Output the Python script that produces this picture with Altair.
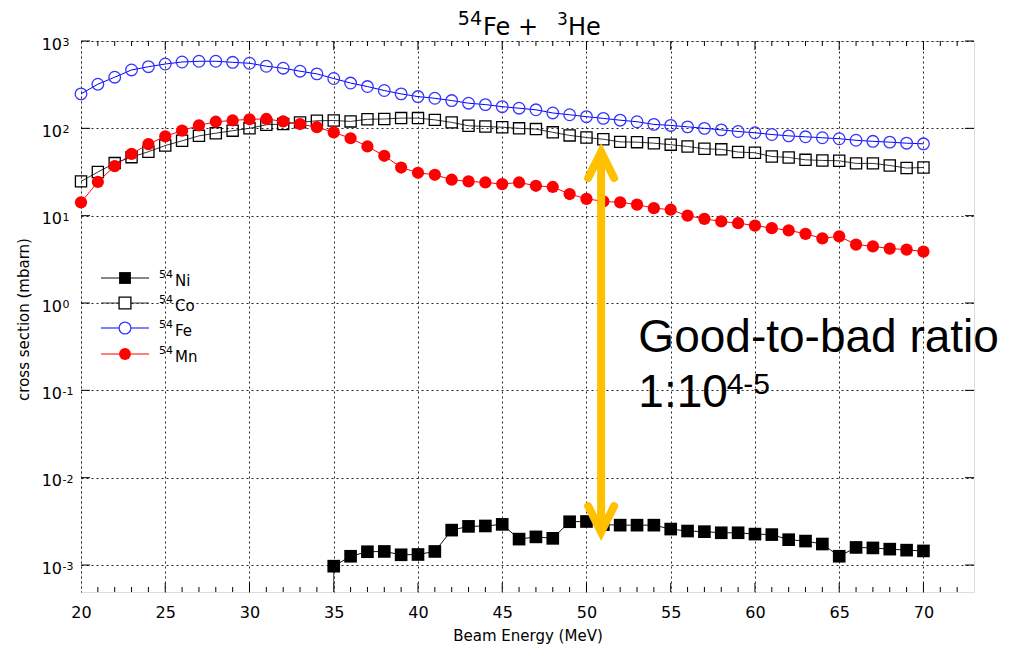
import altair as alt
import pandas as pd

# ---------------- data ----------------
energy = list(range(20, 71))
fe_54 = [248, 320, 385, 466, 508, 545, 575, 586, 586, 570, 556, 514, 488, 451, 420, 372, 330,
         301, 271, 248, 231, 221, 208, 194, 187, 177, 170, 163, 150, 143, 136, 130, 124, 119, 111,
         108, 104, 100, 96, 92, 89, 85, 82, 80, 78, 76, 73, 71, 69.5, 67.6, 66.5]
co_54 = [24.7, 31.6, 40, 46.8, 54, 63.5, 72, 82, 88, 94, 100, 110, 112, 117, 122,
         123, 120, 127, 128, 131, 131, 125, 117, 107, 105, 103, 100,
         98, 90, 83, 78.5, 75, 70, 69.5, 67.6, 65, 62, 58.3, 57.5, 53.5, 52.5, 47.6,
         46.4, 43.6, 42.9, 42.5, 39.7, 39.7, 37.6, 35.1, 35.6]
mn_54 = [14.2, 24.3, 37, 51, 66, 81, 94, 108, 119, 123, 127, 128, 120, 112, 103, 90, 77,
         62, 48.5, 35.6, 31, 29.4, 25.8, 24.7, 24, 23, 24, 22, 21.3, 17.7, 15.6, 14.6, 14.2, 13.4, 12.2, 11.7,
         10.0, 9.2, 8.6, 8.2, 7.7, 7.2, 6.8, 6.2, 5.5, 5.8, 4.67, 4.46, 4.2, 4.09, 3.88]
ni_energy = list(range(35, 71))
ni_54 = [0.00097, 0.00126, 0.00142, 0.00143, 0.00131, 0.00132, 0.00143, 0.00251, 0.00277, 0.0028, 0.00292,
         0.00198, 0.0021, 0.00202, 0.00313, 0.00315, 0.0029, 0.00286, 0.00286, 0.00286, 0.00258,
         0.00245, 0.00241, 0.00234, 0.00234, 0.00226, 0.00223, 0.00195, 0.00188, 0.00174, 0.00126,
         0.00159, 0.00157, 0.00152, 0.00148, 0.00145]

series_names = ["54Ni", "54Co", "54Fe", "54Mn"]
legend_mass = ["54", "54", "54", "54"]
legend_elem = ["Ni", "Co", "Fe", "Mn"]
title_parts = ["54", "Fe +", "3", "He"]          # superscript, normal, superscript, normal
x_title = "Beam Energy (MeV)"
y_title = "cross section (mbarn)"

x_domain = [20, 73]
y_domain = [4.91e-4, 1000]
x_major = [20, 25, 30, 35, 40, 45, 50, 55, 60, 65, 70]
x_minor = [v for v in range(21, 73) if v % 5 != 0]
y_major = [1e-3, 1e-2, 1e-1, 1, 10, 100, 1000]
y_exp = ["-3", "-2", "-1", "0", "1", "2", "3"]

# annotation arrow (x position, tips) and text
arrow_x = [50.87]
arrow_shaft = [53.6, 2.39e-3]
arrow_head_top = [27.0, 53.6, 27.0]
arrow_head_bottom = [4.73e-3, 2.39e-3, 4.73e-3]
arrow_half_width = 0.77
ann_text = ["Good-to-bad ratio", "1:10", "4-5"]
ann_x = [53.08, 53.08, 58.32]
ann_y = [0.272, 0.064, 0.09]
ann_size = [46, 46, 30]

W, H = 893, 551

xs = alt.Scale(domain=x_domain, nice=False, zero=False)
ys = alt.Scale(type="log", domain=y_domain, nice=False)

FONT = "DejaVu Sans"
x_axis = alt.Axis(values=x_major, title=x_title, ticks=False, domain=False, grid=True,
                  gridColor="#000", gridDash=[2, 3], gridWidth=1, gridOpacity=0.85,
                  labelFont=FONT, labelFontSize=16, labelColor="#000", labelPadding=12,
                  labelFlush=False, labelOverlap=False,
                  titleFont=FONT, titleFontSize=15, titleFontWeight="normal", titleColor="#000",
                  titleX=W / 2, titleY=48, titleAlign="center", titleBaseline="alphabetic")
y_axis = alt.Axis(values=y_major, labels=False, title=y_title, ticks=False, domain=False,
                  grid=True, gridColor="#000", gridDash=[2, 3], gridWidth=1, gridOpacity=0.85,
                  titleFont=FONT, titleFontSize=15, titleFontWeight="normal", titleColor="#000",
                  titleX=-58, titleY=278, titleAngle=270, titleAlign="center", titleBaseline="middle")

X = alt.X("E:Q", scale=xs, axis=x_axis)
Y = alt.Y("v:Q", scale=ys, axis=y_axis)

df_fe = pd.DataFrame({"E": energy, "v": fe_54})
df_co = pd.DataFrame({"E": energy, "v": co_54})
df_mn = pd.DataFrame({"E": energy, "v": mn_54})
df_ni = pd.DataFrame({"E": ni_energy, "v": ni_54})

styles = {
    "54Ni": dict(df=df_ni, line="#111111", col="#000000", shape="square", filled=True, size=160),
    "54Co": dict(df=df_co, line="#333333", col="#000000", shape="square", filled=False, size=125),
    "54Fe": dict(df=df_fe, line="#0000ff", col="#3535ff", shape="circle", filled=False, size=135),
    "54Mn": dict(df=df_mn, line="#ff0000", col="#ff0000", shape="circle", filled=True, size=150),
}

layers = []

# tick marks (inward) on all four sides
df_xminor = pd.DataFrame({"E": x_minor})
df_xmajor = pd.DataFrame({"E": x_major[1:]})
df_ymajor = pd.DataFrame({"v": y_major, "exp": y_exp, "base": ["10"] * len(y_major)})
tick_col = "#000"
layers.append(alt.Chart(df_xminor).mark_rule(color=tick_col, strokeWidth=1).encode(
    x=X, y=alt.value(H), y2=alt.value(H - 5)))
layers.append(alt.Chart(df_xminor).mark_rule(color=tick_col, strokeWidth=1).encode(
    x=X, y=alt.value(0), y2=alt.value(5)))
layers.append(alt.Chart(df_xmajor).mark_rule(color=tick_col, strokeWidth=1).encode(
    x=X, y=alt.value(H), y2=alt.value(H - 9)))
layers.append(alt.Chart(df_xmajor).mark_rule(color=tick_col, strokeWidth=1).encode(
    x=X, y=alt.value(0), y2=alt.value(9)))
layers.append(alt.Chart(df_ymajor).mark_rule(color=tick_col, strokeWidth=1).encode(
    y=Y, x=alt.value(0), x2=alt.value(9)))
layers.append(alt.Chart(df_ymajor).mark_rule(color=tick_col, strokeWidth=1).encode(
    y=Y, x=alt.value(W), x2=alt.value(W - 9)))

# y tick labels "10" with superscript exponent
layers.append(alt.Chart(df_ymajor).mark_text(
    align="right", baseline="alphabetic", font=FONT, fontSize=16, color="#000", dy=8.5).encode(
    y=Y, x=alt.value(-19), text="base:N"))
layers.append(alt.Chart(df_ymajor).mark_text(
    align="left", baseline="alphabetic", font=FONT, fontSize=11, color="#000", dy=5).encode(
    y=Y, x=alt.value(-18.5), text="exp:N"))

# drop line of the first 54Ni point
df_drop = pd.DataFrame({"E": [ni_energy[0]], "v": [ni_54[0]], "v2": [y_domain[0]]})
layers.append(alt.Chart(df_drop).mark_rule(color="#333", strokeWidth=1).encode(
    x=X, y=Y, y2="v2:Q"))

for name in series_names:
    s = styles[name]
    layers.append(alt.Chart(s["df"]).mark_line(color=s["line"], strokeWidth=1).encode(x=X, y=Y))
    layers.append(alt.Chart(s["df"]).mark_point(
        shape=s["shape"], filled=s["filled"], size=s["size"], color=s["col"],
        strokeWidth=1.3, opacity=1).encode(x=X, y=Y))

# manual legend (top-left, inside plot)
row_y = [237, 262, 287, 313]
for i, name in enumerate(series_names):
    s = styles[name]
    one = pd.DataFrame({"mass": [legend_mass[i]], "elem": [legend_elem[i]]})
    layers.append(alt.Chart(one).mark_rule(color=s["line"], strokeWidth=1.2).encode(
        x=alt.value(20), x2=alt.value(68), y=alt.value(row_y[i])))
    layers.append(alt.Chart(one).mark_point(
        shape=s["shape"], filled=s["filled"], size=140, color=s["col"], strokeWidth=1.3,
        opacity=1, fill=("#ffffff" if not s["filled"] else s["col"])).encode(
        x=alt.value(44), y=alt.value(row_y[i])))
    layers.append(alt.Chart(one).mark_text(
        align="left", baseline="alphabetic", font=FONT, fontSize=11, color="#000").encode(
        x=alt.value(78), y=alt.value(row_y[i]), text="mass:N"))
    layers.append(alt.Chart(one).mark_text(
        align="left", baseline="alphabetic", font=FONT, fontSize=15, color="#000").encode(
        x=alt.value(94), y=alt.value(row_y[i] + 8), text="elem:N"))

# orange double arrow
arrow_col = "#FFC000"
df_shaft = pd.DataFrame({"E": arrow_x, "v": [arrow_shaft[0]], "v2": [arrow_shaft[1]]})
layers.append(alt.Chart(df_shaft).mark_rule(color=arrow_col, strokeWidth=8).encode(
    x=X, y=Y, y2="v2:Q"))
hx = [arrow_x[0] - arrow_half_width, arrow_x[0], arrow_x[0] + arrow_half_width]
df_heads = pd.DataFrame({
    "E": hx + hx,
    "v": arrow_head_top + arrow_head_bottom,
    "head": ["top"] * 3 + ["bottom"] * 3,
    "o": [0, 1, 2, 0, 1, 2],
})
layers.append(alt.Chart(df_heads).mark_line(
    color=arrow_col, strokeWidth=8, strokeJoin="miter", strokeCap="round").encode(
    x=X, y=Y, detail="head:N", order="o:Q"))

# annotation text
df_ann = pd.DataFrame({"E": ann_x, "v": ann_y, "t": ann_text})
for i in range(len(ann_text)):
    layers.append(alt.Chart(df_ann.iloc[[i]]).mark_text(
        align="left", baseline="alphabetic", font="Liberation Sans", fontSize=ann_size[i],
        color="#000").encode(x=X, y=Y, text="t:N"))

# chart title  54Fe + 3He  (with superscripts)
df_title = pd.DataFrame({"t": title_parts})
title_specs = [  # (x, y, align, size)
    (401, -16, "right", 19),
    (402, -6, "left", 24),
    (476, -16, "left", 17),
    (487, -6, "left", 24),
]
for i, (tx, ty, al, fs) in enumerate(title_specs):
    layers.append(alt.Chart(df_title.iloc[[i]]).mark_text(
        align=al, baseline="alphabetic", font=FONT, fontSize=fs, color="#000").encode(
        x=alt.value(tx), y=alt.value(ty), text="t:N"))

chart = alt.layer(*layers).properties(
    width=W, height=H,
    autosize=alt.AutoSizeParams(type="none"),
    padding={"left": 73, "top": 33, "right": 34, "bottom": 53},
).configure_view(stroke="#000", strokeWidth=1.4).configure(background="white")

chart.save("out.html", embed_options={"renderer": "svg", "actions": False})
